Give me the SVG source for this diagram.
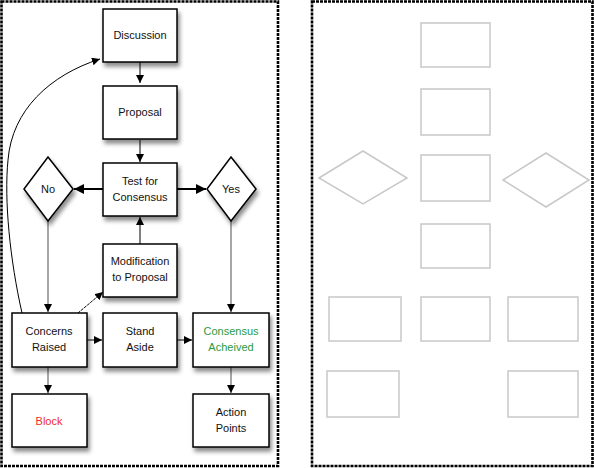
<svg xmlns="http://www.w3.org/2000/svg" width="594" height="468" viewBox="0 0 594 468">
<style>
.frame{fill:none;stroke:#000;stroke-width:2.6;stroke-dasharray:3 1}
.box{fill:#fff;stroke:#000;stroke-width:1.5}
.t{font-family:"Liberation Sans",Arial,sans-serif;font-size:11px;fill:#111;text-anchor:middle}
.c{fill:none;stroke:#000;stroke-width:1}
.g{fill:none;stroke:#888;stroke-width:1.5}
.ghost{fill:#fff;stroke:#c8c8c8;stroke-width:1.5}
</style>
<defs>
<filter id="sh" x="-20%" y="-20%" width="150%" height="160%">
<feDropShadow dx="2" dy="4" stdDeviation="2" flood-color="#000" flood-opacity="0.45"/>
</filter>
<marker id="ah" viewBox="0 0 10 10" refX="10" refY="5" markerWidth="8" markerHeight="8" markerUnits="userSpaceOnUse" orient="auto">
<path d="M0,0 L10,5 L0,10 z" fill="#000"/>
</marker>
<marker id="ahb" viewBox="0 0 10 10" refX="10" refY="5" markerWidth="10" markerHeight="10" markerUnits="userSpaceOnUse" orient="auto">
<path d="M0,0 L10,5 L0,10 z" fill="#000"/>
</marker>
</defs>
<rect x="0" y="0" width="594" height="468" fill="#fff"/>
<rect class="frame" x="1.5" y="1.5" width="276.5" height="464.5"/>
<rect class="frame" x="312" y="1.5" width="280.5" height="464.5"/>

<g id="connectors">
<line class="c" x1="140" y1="62" x2="140" y2="83" marker-end="url(#ah)"/>
<line class="c" x1="140" y1="140" x2="140" y2="162" marker-end="url(#ah)"/>
<line class="c" x1="140" y1="244" x2="140" y2="217" marker-end="url(#ah)"/>
<line x1="103" y1="189" x2="74" y2="189" stroke="#000" stroke-width="2" marker-end="url(#ahb)"/>
<line x1="177" y1="189" x2="206" y2="189" stroke="#000" stroke-width="2" marker-end="url(#ahb)"/>
<line class="g" x1="48" y1="221" x2="48" y2="312" marker-end="url(#ah)"/>
<line class="g" x1="231" y1="221" x2="231" y2="312" marker-end="url(#ah)"/>
<line class="c" x1="78" y1="313" x2="103" y2="292" stroke-dasharray="3 1" marker-end="url(#ah)"/>
<path class="c" d="M22,313 C10,260 4,200 8,160 C12,110 50,75 100,59" marker-end="url(#ah)"/>
<line class="c" x1="87" y1="340" x2="102" y2="340" marker-end="url(#ah)"/>
<line class="c" x1="177" y1="340" x2="192" y2="340" marker-end="url(#ah)"/>
<line class="g" x1="48" y1="367" x2="48" y2="393" marker-end="url(#ah)"/>
<line class="g" x1="231" y1="367" x2="231" y2="393" marker-end="url(#ah)"/>
</g>

<g id="discussion">
<rect class="box" filter="url(#sh)" x="103" y="9" width="74" height="53"/>
<text class="t" x="140" y="39">Discussion</text>
</g>
<g id="proposal">
<rect class="box" filter="url(#sh)" x="103" y="86" width="74" height="53"/>
<text class="t" x="140" y="116">Proposal</text>
</g>
<g id="test">
<rect class="box" filter="url(#sh)" x="103" y="163" width="74" height="53"/>
<text class="t" x="140" y="185">Test for</text>
<text class="t" x="140" y="201">Consensus</text>
</g>
<g id="no">
<polygon class="box" filter="url(#sh)" points="48,157 73,189 48,221 24,189"/>
<text class="t" x="48" y="193">No</text>
</g>
<g id="yes">
<polygon class="box" filter="url(#sh)" points="231,157 256,189 231,221 207,189"/>
<text class="t" x="231" y="193">Yes</text>
</g>
<g id="modification">
<rect class="box" filter="url(#sh)" x="103" y="244" width="74" height="53"/>
<text class="t" x="140" y="265">Modification</text>
<text class="t" x="140" y="281">to Proposal</text>
</g>
<g id="concerns">
<rect class="box" filter="url(#sh)" x="12" y="313" width="75" height="54"/>
<text class="t" x="49" y="335">Concerns</text>
<text class="t" x="49" y="351">Raised</text>
</g>
<g id="standaside">
<rect class="box" filter="url(#sh)" x="103" y="313" width="74" height="54"/>
<text class="t" x="140" y="335">Stand</text>
<text class="t" x="140" y="351">Aside</text>
</g>
<g id="consensus">
<rect class="box" filter="url(#sh)" x="193" y="313" width="76" height="54"/>
<text class="t" x="231" y="335" style="fill:#2a9a3f">Consensus</text>
<text class="t" x="231" y="351" style="fill:#2a9a3f">Acheived</text>
</g>
<g id="block">
<rect class="box" filter="url(#sh)" x="12" y="394" width="75" height="53"/>
<text class="t" x="49" y="425" style="fill:#ee2a2a">Block</text>
</g>
<g id="action">
<rect class="box" filter="url(#sh)" x="193" y="394" width="76" height="53"/>
<text class="t" x="231" y="416">Action</text>
<text class="t" x="231" y="432">Points</text>
</g>

<g id="blank-template">
<rect class="ghost" x="421" y="23" width="69" height="44"/>
<rect class="ghost" x="421" y="89" width="69" height="46"/>
<rect class="ghost" x="421" y="155" width="69" height="46"/>
<rect class="ghost" x="421" y="224" width="69" height="44"/>
<polygon class="ghost" points="319,178 363,151 407,178 363,204"/>
<polygon class="ghost" points="503,180 546,153 589,180 546,207"/>
<rect class="ghost" x="329" y="297" width="72" height="44"/>
<rect class="ghost" x="421" y="297" width="69" height="44"/>
<rect class="ghost" x="508" y="297" width="70" height="44"/>
<rect class="ghost" x="327" y="371" width="72" height="46"/>
<rect class="ghost" x="508" y="371" width="70" height="46"/>
</g>
</svg>
